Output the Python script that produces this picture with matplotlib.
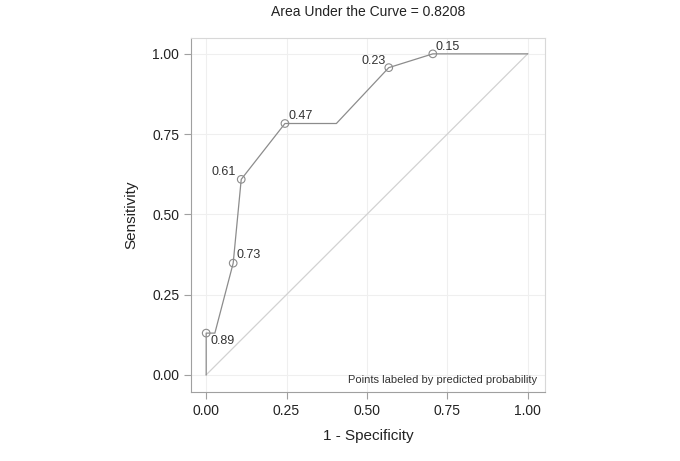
import matplotlib

matplotlib.use("Agg")
import matplotlib.pyplot as plt

# ROC curve (1 - specificity, sensitivity)
fpr = [0.0, 0.0, 0.027, 0.084, 0.109, 0.245, 0.405, 0.568, 0.705, 1.0]
tpr = [0.0, 0.130, 0.130, 0.348, 0.609, 0.783, 0.783, 0.957, 1.0, 1.0]

# labelled cutoffs
mark_x = [0.0, 0.084, 0.109, 0.245, 0.568, 0.705]
mark_y = [0.130, 0.348, 0.609, 0.783, 0.957, 1.0]
mark_labels = ["0.89", "0.73", "0.61", "0.47", "0.23", "0.15"]
label_offsets = [(4, -8), (3, 8), (-5, 7), (4, 8), (-3, 7), (3, 7)]
label_ha = ["left", "left", "right", "left", "right", "left"]

ticks = [0.0, 0.25, 0.5, 0.75, 1.0]
tick_labels = ["0.00", "0.25", "0.50", "0.75", "1.00"]
auc = 0.8208

plt.rcParams["font.family"] = ["Liberation Sans", "DejaVu Sans"]

fig = plt.figure(figsize=(6.8, 4.61), dpi=100)
ax = fig.add_axes([0.281, 0.150, 0.520, 0.768])

ax.plot([0, 1], [0, 1], color="#d2d2d2", linewidth=0.9, zorder=2)
ax.plot(fpr, tpr, color="#8c8c8c", linewidth=0.9, zorder=3)
ax.scatter(mark_x, mark_y, s=30, facecolors="none", edgecolors="#8c8c8c",
           linewidths=0.8, zorder=4)
for x, y, text, off, ha in zip(mark_x, mark_y, mark_labels, label_offsets, label_ha):
    ax.annotate(text, (x, y), xytext=off, textcoords="offset pixels",
                ha=ha, va="center", fontsize=9, color="#333333")

ax.text(0.98, 0.034, "Points labeled by predicted probability",
        transform=ax.transAxes, ha="right", va="center", fontsize=8,
        color="#333333")

ax.set_xlim(-0.047, 1.053)
ax.set_ylim(-0.053, 1.05)
ax.set_xticks(ticks, tick_labels)
ax.set_yticks(ticks, tick_labels)
ax.grid(True, color="#efefef", linewidth=0.8)
ax.set_axisbelow(True)
ax.tick_params(direction="out", length=5, width=0.8, color="#a0a0a0",
               labelsize=10, labelcolor="#222222")

for side in ("left", "bottom"):
    ax.spines[side].set_color("#a0a0a0")
for side in ("top", "right"):
    ax.spines[side].set_color("#d8d8d8")

ax.set_xlabel("1 - Specificity", fontsize=11, color="#222222", labelpad=8)
ax.set_ylabel("Sensitivity", fontsize=11, color="#222222", labelpad=10)
fig.text(0.541, 0.974, f"Area Under the Curve = {auc:.4f}", ha="center",
         va="center", fontsize=10, color="#222222")

fig.savefig("out.png", dpi=100)
